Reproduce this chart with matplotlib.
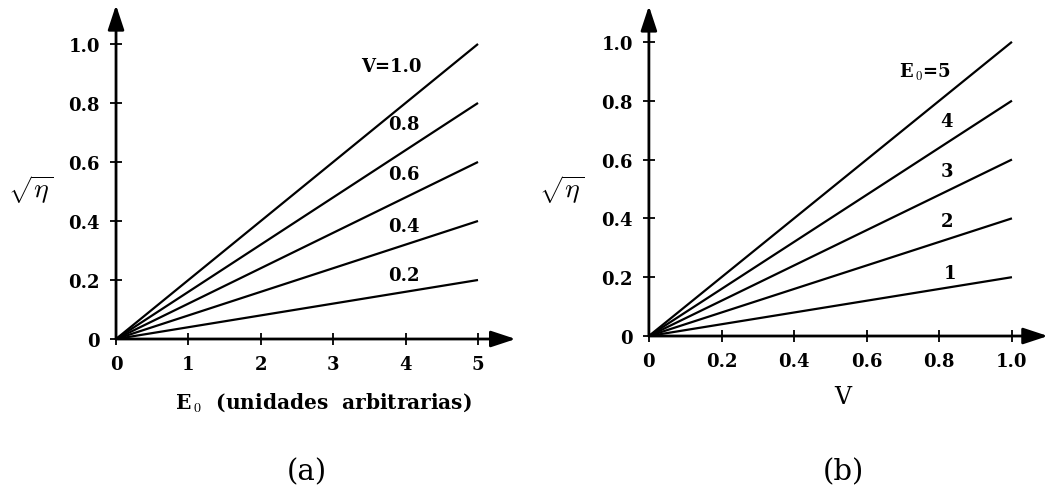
import matplotlib.pyplot as plt

# Data
v_values = [0.2, 0.4, 0.6, 0.8, 1.0]          # curves in (a)
e0_range = [0, 5]                              # E0 span in (a)
e0_values = [1, 2, 3, 4, 5]                    # curves in (b)
v_range = [0, 1.0]                             # V span in (b)
sqrt_eta_end_a = [0.2, 0.4, 0.6, 0.8, 1.0]     # sqrt(eta) at E0 = 5
sqrt_eta_end_b = [0.2, 0.4, 0.6, 0.8, 1.0]     # sqrt(eta) at V = 1.0

labels_a = ['0.2', '0.4', '0.6', '0.8', 'V=1.0']
labels_b = ['1', '2', '3', '4', r'E$_{\,0}$=5']

xticks_a = [0, 1, 2, 3, 4, 5]
xticklabels_a = ['0', '1', '2', '3', '4', '5']
xticks_b = [0, 0.2, 0.4, 0.6, 0.8, 1.0]
xticklabels_b = ['0', '0.2', '0.4', '0.6', '0.8', '1.0']
yticks = [0, 0.2, 0.4, 0.6, 0.8, 1.0]
yticklabels = ['0', '0.2', '0.4', '0.6', '0.8', '1.0']

plt.rcParams['font.family'] = 'DejaVu Serif'
plt.rcParams['mathtext.fontset'] = 'cm'

fig = plt.figure(figsize=(10.5, 4.89), dpi=100)
ax_a = fig.add_axes([0.1105, 0.3047, 0.3806, 0.683])
ax_b = fig.add_axes([0.618, 0.3108, 0.380, 0.675])


def style_axes(ax, xlim, ylim, xticks, xticklabels):
    ax.set_xlim(*xlim)
    ax.set_ylim(*ylim)
    for s in ax.spines.values():
        s.set_visible(False)
    # axis lines with arrow heads
    arrow = dict(arrowstyle='-|>,head_length=1.0,head_width=0.33', color='black',
                 lw=2.0, mutation_scale=15, shrinkA=0, shrinkB=0)
    ax.annotate('', xy=(1, 0), xytext=(0, 0), xycoords='axes fraction',
                arrowprops=arrow, annotation_clip=False)
    ax.annotate('', xy=(0, 1), xytext=(0, 0), xycoords='axes fraction',
                arrowprops=arrow, annotation_clip=False)
    ax.set_xticks(xticks)
    ax.set_xticklabels(xticklabels, fontweight='bold', fontsize=13)
    ax.set_yticks(yticks)
    ax.set_yticklabels(yticklabels, fontweight='bold', fontsize=13)
    ax.tick_params(direction='inout', length=9, width=1.3, pad=7)


# (a) sqrt(eta) vs E0
for v, end in zip(v_values, sqrt_eta_end_a):
    ax_a.plot(e0_range, [0, end], color='black', lw=1.6, solid_capstyle='butt')
label_pos_a = [(3.98, 0.217), (3.98, 0.383), (3.98, 0.56), (3.98, 0.73), (3.80, 0.925)]
for lab, (x, y) in zip(labels_a, label_pos_a):
    ax_a.text(x, y, lab, fontsize=13, fontweight='bold', ha='center', va='center')
style_axes(ax_a, (0, 5.52), (0, 1.132), xticks_a, xticklabels_a)
ax_a.text(0.519, -0.186, r'E$_{\,0}$  (unidades  arbitrarias)', transform=ax_a.transAxes,
          fontsize=14.5, fontweight='bold', ha='center', va='center')
ax_a.text(-0.213, 0.51, r'$\sqrt{\eta}$', transform=ax_a.get_yaxis_transform(),
          fontsize=20, ha='center', va='center')
fig.text(0.292, 0.035, '(a)', fontsize=21, ha='center', va='center')

# (b) sqrt(eta) vs V
for e0, end in zip(e0_values, sqrt_eta_end_b):
    ax_b.plot(v_range, [0, end], color='black', lw=1.6, solid_capstyle='butt')
label_pos_b = [(0.83, 0.214), (0.82, 0.39), (0.82, 0.56), (0.82, 0.73), (0.76, 0.90)]
for lab, (x, y) in zip(labels_b, label_pos_b):
    ax_b.text(x, y, lab, fontsize=13, fontweight='bold', ha='center', va='center')
style_axes(ax_b, (0, 1.099), (0, 1.122), xticks_b, xticklabels_b)
ax_b.text(0.486, -0.182, 'V', transform=ax_b.transAxes,
          fontsize=17, ha='center', va='center')
ax_b.text(-0.218, 0.50, r'$\sqrt{\eta}$', transform=ax_b.get_yaxis_transform(),
          fontsize=20, ha='center', va='center')
fig.text(0.803, 0.035, '(b)', fontsize=21, ha='center', va='center')

fig.savefig('out.png', dpi=100)
